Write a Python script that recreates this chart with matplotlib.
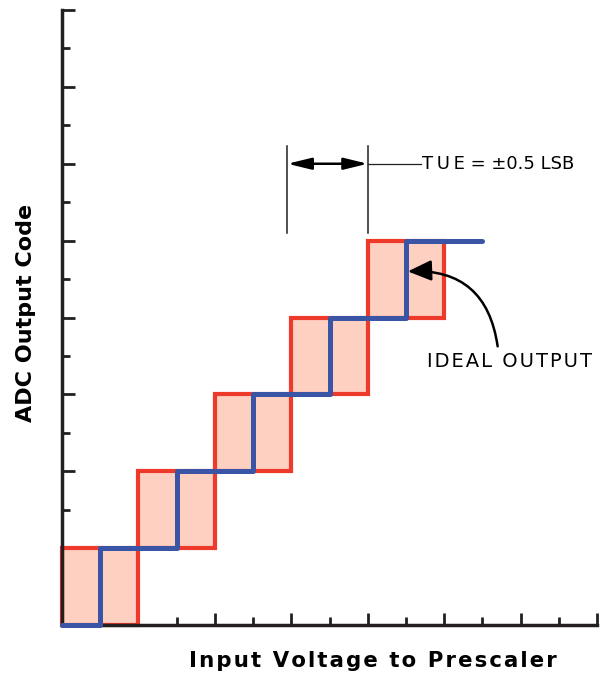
import numpy as np
import matplotlib.pyplot as plt
from matplotlib.patches import Rectangle, FancyArrowPatch
from matplotlib.ticker import MultipleLocator

# red boxes: lower-left corner (x, y), width/height in half-LSB units
box_x = [0, 2, 4, 6, 8]
box_y = [0, 2, 4, 6, 8]
box_w = 2
box_h = 2

# ideal output staircase
step_x = [0, 1, 1, 3, 3, 5, 5, 7, 7, 9, 9, 11]
step_y = [0, 0, 2, 2, 4, 4, 6, 6, 8, 8, 10, 10]

tue_left = 5.9
tue_right = 8.0
tue_label = "T\u2009U\u2009E = \u00b10.5 LSB"
ideal_label = "IDEAL OUTPUT"
xlabel = "Input Voltage to Prescaler"
ylabel = "ADC Output Code"

red = "#ee3a2a"
fill = "#fdd0c2"
blue = "#3b55a6"
ink = "#231f20"


def spaced(s, sep="\u200a"):
    # loose letter spacing like the original artwork
    return sep.join(s)


fig = plt.figure(figsize=(6, 6.81), dpi=100)
ax = fig.add_axes([62/600, 56/681, 535/600, 615/681])
ax.set_xlim(0, 14)
ax.set_ylim(0, 16)

for x, y in zip(box_x, box_y):
    ax.add_patch(Rectangle((x, y), box_w, box_h, facecolor=fill,
                           edgecolor=red, linewidth=3.0, clip_on=False, zorder=2))

ax.plot(step_x, step_y, color=blue, linewidth=3.6, solid_capstyle="round",
        solid_joinstyle="round", clip_on=False, zorder=3)

# TUE dimension
ax.plot([tue_left, tue_left], [10.2, 12.45], color=ink, lw=1.1)
ax.plot([tue_right, tue_right], [10.2, 12.45], color=ink, lw=1.1)
ax.annotate("", xy=(tue_left, 12.0), xytext=(tue_right, 12.0),
            arrowprops=dict(arrowstyle="<|-|>,head_length=0.9,head_width=0.22",
                            color="black", lw=1.8,
                            mutation_scale=16, shrinkA=0, shrinkB=0))
ax.plot([tue_right, 9.4], [12.0, 12.0], color=ink, lw=0.9)
ax.text(9.43, 12.0, tue_label, fontsize=13, va="center", ha="left", color="black")

# ideal output arrow
ax.add_patch(FancyArrowPatch((11.4, 7.25), (9.05, 9.2),
                             connectionstyle="arc3,rad=0.45",
                             arrowstyle="-|>,head_length=0.8,head_width=0.35",
                             mutation_scale=18,
                             color="black", lw=1.8, shrinkA=0, shrinkB=0,
                             zorder=5))
ax.text(9.55, 6.85, spaced(ideal_label), fontsize=14, va="center", ha="left",
        color="black")

for s in ["top", "right"]:
    ax.spines[s].set_visible(False)
for s in ["left", "bottom"]:
    ax.spines[s].set_linewidth(2.5)
    ax.spines[s].set_color(ink)

ax.xaxis.set_major_locator(MultipleLocator(2))
ax.xaxis.set_minor_locator(MultipleLocator(1))
ax.yaxis.set_major_locator(MultipleLocator(2))
ax.yaxis.set_minor_locator(MultipleLocator(1))
ax.tick_params(which="major", direction="in", length=9, width=2, color=ink,
               labelbottom=False, labelleft=False)
ax.tick_params(which="minor", direction="in", length=6, width=2, color=ink)

fig.text(26/600, 1 - 313/681, ylabel, rotation=90, fontsize=16,
         fontweight="bold", ha="center", va="center")
fig.text(373/600, 1 - 661/681, spaced(xlabel), fontsize=15.3,
         fontweight="bold", ha="center", va="center")

fig.savefig("out.png", dpi=100)
